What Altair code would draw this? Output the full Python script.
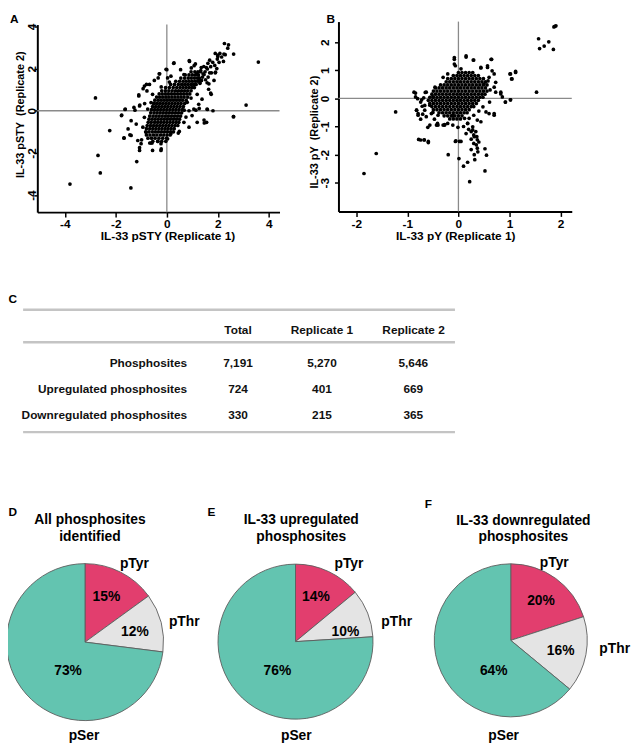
import altair as alt
import pandas as pd

# ---------------- layout (reference pixel coords -> chart coords) ----------------
OFF = 8
W, H = 631, 742
FONT = "Liberation Sans"


def cx(x):
    return x - OFF


def cy(y):
    return y - OFF


# ---------------- data: panel A (pSTY) ----------------
a_outer_pts = [
    (-3.80, -3.48), (-2.80, 0.61), (-2.70, -2.12), (-2.61, -2.95), (-2.24, -0.94), (-1.41, -3.66),
    (-1.18, -2.41), (-1.77, -0.20), (-1.64, 0.06), (-1.68, -1.28), (-1.45, -1.14), (-1.07, -1.75),
    (-1.10, 0.75), (-0.80, 1.25), (-1.06, 0.27), (-1.25, 0.03), (-0.99, -1.38), (-0.67, -1.53),
    (-0.22, -1.81), (0.49, -0.98), (-0.03, 1.97), (0.27, 2.25), (0.88, 2.38), (1.61, 2.25),
    (1.90, 2.72), (2.26, 3.19), (2.39, 2.97), (2.24, 2.69), (2.62, 2.69), (3.59, 2.31), (3.11, 0.27),
    (2.62, -0.28), (1.59, 0.06), (1.46, -0.44), (1.56, -0.55), (1.72, 0.84), (1.91, 1.83),
    (2.08, 2.72), (2.00, 2.64), (-0.30, 1.75), (-0.22, 1.13), (0.10, 1.36), (1.07, 2.14), (1.27, 0.11),
    (1.14, 0.03), (0.68, 0.03), (-0.35, -1.45), (-0.58, -1.53), (-0.87, 0.34), (-0.93, 1.05),
]
a_fringe_pts = [
    (-1.78, -0.23), (-1.63, 0.08), (-1.29, 0.16), (-1.10, 0.70), (-1.07, 0.23), (-1.40, -0.47),
    (-1.20, -0.63), (-1.52, -0.86), (-1.68, -1.30), (-1.40, -1.17), (-1.14, -1.41), (-1.01, -1.56),
    (-1.07, -1.88), (-0.62, -1.53), (-0.56, -1.88), (-0.23, -1.88), (-0.23, -1.56), (0.45, -1.06),
    (0.87, -0.78), (1.19, -0.55), (1.47, -0.58), (1.58, 0.08), (1.06, 0.08), (0.87, 0.00),
    (1.81, 0.00), (2.61, -0.28), (1.74, 0.78), (1.38, 0.55), (1.32, 1.41), (1.42, 1.75), (1.68, 1.80),
    (1.96, 2.00), (1.90, 1.80), (2.00, 2.58), (2.29, 2.66), (2.42, 3.13), (2.22, 2.34), (0.89, 2.34),
    (0.96, 2.03), (1.12, 2.22), (0.28, 2.27), (0.00, 1.95), (-0.28, 1.75), (-0.34, 1.56), (0.03, 1.56),
    (0.16, 1.64), (-0.88, 1.17), (-0.78, 0.94), (-0.68, 1.25), (-0.49, 1.44), (0.54, 1.95), (0.67, 1.72),
    (1.58, 1.33), (1.64, 1.02), (1.19, 0.78), (1.25, 0.31), (0.99, -0.23), (0.67, -0.55), (0.16, -1.09),
    (0.03, -1.33), (-0.81, -1.02), (-0.94, -0.78), (-0.88, -0.31), (-0.75, 0.08), (-0.62, 0.39),
    (-0.56, 0.78), (1.36, 1.44), (1.46, 1.72), (1.59, 1.98), (1.72, 2.09), (1.80, 2.30), (1.98, 2.45),
    (1.33, 1.91), (1.18, 1.75), (1.52, 1.47), (1.85, 1.44), (1.65, 1.28), (1.40, 1.60), (1.50, 1.85),
    (1.62, 1.60), (1.75, 1.80), (1.25, 1.55), (1.55, 2.05), (2.15, 2.55), (1.30, 1.30), (1.68, 2.40),
    (1.88, 2.15), (2.05, 2.30), (1.45, 2.10), (1.35, 2.05), (0.75, -0.30), (0.80, 0.40), (0.95, 0.60),
]
a_core_y = [-1.45, -1.3, -1.15, -1.0, -0.85, -0.7, -0.55, -0.4, -0.25, -0.1, 0.05, 0.2,
            0.35, 0.5, 0.65, 0.8, 0.95, 1.1, 1.25, 1.4, 1.55, 1.7, 1.85]
a_core_x = [
    [-0.55, -0.36, -0.2, -0.04],
    [-0.74, -0.6, -0.46, -0.31, -0.16, -0.01],
    [-0.8, -0.66, -0.52, -0.39, -0.25, -0.12, 0.01, 0.13],
    [-0.83, -0.7, -0.57, -0.45, -0.33, -0.21, -0.09, 0.03, 0.15, 0.26],
    [-0.8, -0.67, -0.55, -0.43, -0.31, -0.19, -0.07, 0.05, 0.17, 0.29],
    [-0.77, -0.64, -0.52, -0.4, -0.28, -0.16, -0.04, 0.08, 0.2, 0.32, 0.43],
    [-0.73, -0.61, -0.48, -0.36, -0.24, -0.12, 0.0, 0.12, 0.24, 0.36, 0.47],
    [-0.7, -0.58, -0.46, -0.34, -0.22, -0.1, 0.02, 0.14, 0.26, 0.38, 0.5],
    [-0.67, -0.54, -0.42, -0.3, -0.18, -0.06, 0.06, 0.18, 0.3, 0.42, 0.54],
    [-0.63, -0.5, -0.38, -0.26, -0.14, -0.02, 0.1, 0.22, 0.34, 0.46, 0.58],
    [-0.6, -0.48, -0.36, -0.24, -0.12, 0.0, 0.12, 0.24, 0.36, 0.48, 0.61],
    [-0.56, -0.44, -0.32, -0.2, -0.08, 0.04, 0.16, 0.28, 0.4, 0.52, 0.65],
    [-0.52, -0.4, -0.28, -0.16, -0.04, 0.08, 0.2, 0.32, 0.44, 0.56, 0.7],
    [-0.47, -0.34, -0.22, -0.1, 0.02, 0.14, 0.26, 0.38, 0.5, 0.62, 0.76],
    [-0.4, -0.28, -0.16, -0.04, 0.08, 0.2, 0.32, 0.44, 0.56, 0.68, 0.82],
    [-0.3, -0.18, -0.06, 0.06, 0.18, 0.3, 0.42, 0.54, 0.66, 0.78, 0.9],
    [-0.2, -0.06, 0.08, 0.21, 0.34, 0.46, 0.58, 0.7, 0.82, 0.95],
    [-0.05, 0.1, 0.25, 0.39, 0.52, 0.64, 0.76, 0.88, 0.99, 1.08],
    [0.15, 0.3, 0.45, 0.58, 0.7, 0.82, 0.94, 1.05, 1.15],
    [0.35, 0.5, 0.64, 0.76, 0.88, 1.0, 1.12, 1.22],
    [0.55, 0.7, 0.84, 0.96, 1.08, 1.19, 1.28],
    [0.72, 0.87, 1.0, 1.12, 1.24],
    [0.95, 1.1, 1.22, 1.32],
]

# ---------------- data: panel B (pY) ----------------
b_outer_pts = [
    (-1.85, -2.67), (-1.61, -1.96), (-1.23, -0.48), (-0.87, 0.22), (-0.84, 0.19), (-0.80, -0.01),
    (-0.65, 0.21), (-0.78, -1.46), (-0.74, -1.48), (-0.67, -1.48), (-0.59, -1.57), (-0.60, -1.03),
    (-0.20, -2.00), (-0.06, -1.53), (0.05, -1.53), (0.01, -2.14), (0.10, -2.41), (0.18, -2.27),
    (0.22, -2.96), (0.25, -1.82), (0.31, -2.00), (0.32, -2.18), (0.35, -1.65), (0.37, -1.77),
    (0.36, -1.36), (0.34, -1.18), (0.28, -1.12), (0.52, -1.79), (0.52, -2.58), (0.55, -2.02),
    (-0.08, 1.45), (-0.08, 1.22), (0.15, 1.51), (0.29, 1.36), (0.44, 1.10), (0.57, 1.16), (0.65, 1.39),
    (0.70, 0.87), (0.70, -0.54), (0.61, -0.13), (0.73, 0.22), (0.83, 0.22), (0.92, -0.13), (1.01, 0.87),
    (1.04, 0.69), (1.12, 0.92), (1.02, -0.05), (1.53, 0.22), (1.57, 2.12), (1.59, 1.77), (1.68, 1.86),
    (1.77, 2.01), (1.86, 1.74), (1.87, 2.54), (1.91, 2.58), (1.89, 2.56),
    (-0.82, -0.42), (-0.79, -0.54), (-0.74, -0.74), (-0.70, -0.56), (-0.66, -0.42), (-0.63, -0.65),
    (-0.53, -0.54), (-0.47, -0.74), (-0.40, -0.95), (-0.27, -0.93), (-0.71, -0.28), (-0.56, -0.24),
    (-0.50, 0.05), (-0.43, -0.95), (-0.30, -0.95), (-0.11, -0.95), (-0.01, -1.03), (0.18, -0.89),
    (0.21, -0.71), (0.44, -0.83), (0.54, -0.48), (-0.11, -0.62), (0.10, -1.00), (0.20, -1.10),
    (0.15, -1.25), (0.30, -1.30), (0.25, -1.45), (0.40, -1.55), (0.30, -1.60), (0.38, -1.90),
]
b_fringe_pts = [
    (-0.08, 1.39), (-0.06, 1.16), (0.15, 1.47), (0.30, 1.36), (0.64, 1.39), (0.57, 1.10), (0.44, 1.08),
    (0.66, 0.98), (1.02, 0.87), (1.12, 0.96), (1.05, 0.69), (0.73, 0.57), (0.70, 0.40), (0.83, 0.16),
    (0.86, 0.05), (0.92, -0.13), (1.02, -0.05), (0.60, -0.54), (0.70, -0.60), (0.37, -0.77),
    (0.28, -1.01), (0.25, -1.18), (0.31, -1.36), (0.37, -1.47), (0.02, -1.53), (-0.05, -1.51),
    (-0.21, -0.89), (-0.27, -0.95), (-0.41, -0.89), (-0.56, -0.95), (-0.67, -1.47), (-0.59, -1.53),
    (-0.82, -0.42), (-0.79, -0.60), (-0.84, 0.05), (-0.63, 0.22), (-0.46, 0.40), (-0.30, 0.75),
    (-0.21, 0.87), (0.50, 0.51), (0.60, 0.75), (0.12, -0.71), (0.18, -0.89), (-0.11, -0.60),
    (-0.40, -0.60), (-0.66, -0.25), (-0.74, -0.13), (-0.68, 0.02), (-0.72, -0.05), (0.62, 0.30),
    (0.58, 0.62), (0.48, -0.30), (0.40, -0.45), (0.30, -0.60), (-0.50, -0.50), (0.05, 1.05),
]
b_core_y = [0.92, 0.81, 0.70, 0.59, 0.48, 0.37, 0.26, 0.15, 0.04, -0.07, -0.18, -0.29,
            -0.40, -0.51, -0.62, -0.73]
b_core_x = [
    [0.0, 0.07, 0.14, 0.21, 0.28],
    [-0.1, -0.03, 0.04, 0.11, 0.18, 0.25, 0.32, 0.39],
    [-0.21, -0.14, -0.07, 0.0, 0.07, 0.14, 0.21, 0.28, 0.35, 0.42, 0.49],
    [-0.24, -0.17, -0.1, -0.03, 0.04, 0.11, 0.18, 0.25, 0.32, 0.39, 0.46, 0.53],
    [-0.35, -0.28, -0.21, -0.14, -0.07, 0.0, 0.07, 0.14, 0.21, 0.28, 0.35, 0.42, 0.49, 0.56],
    [-0.45, -0.38, -0.31, -0.24, -0.17, -0.1, -0.03, 0.04, 0.11, 0.18, 0.25, 0.32, 0.39, 0.46, 0.53],
    [-0.49, -0.42, -0.35, -0.28, -0.21, -0.14, -0.07, 0.0, 0.07, 0.14, 0.21, 0.28, 0.35, 0.42, 0.49, 0.56],
    [-0.52, -0.45, -0.38, -0.31, -0.24, -0.17, -0.1, -0.03, 0.04, 0.11, 0.18, 0.25, 0.32, 0.39, 0.46, 0.52],
    [-0.56, -0.49, -0.42, -0.35, -0.28, -0.21, -0.14, -0.07, 0.0, 0.07, 0.14, 0.21, 0.28, 0.35, 0.42, 0.48],
    [-0.59, -0.52, -0.45, -0.38, -0.31, -0.24, -0.17, -0.1, -0.03, 0.04, 0.11, 0.18, 0.25, 0.32, 0.39],
    [-0.56, -0.49, -0.42, -0.35, -0.28, -0.21, -0.14, -0.07, 0.0, 0.07, 0.14, 0.21, 0.28, 0.35],
    [-0.52, -0.45, -0.38, -0.31, -0.24, -0.17, -0.1, -0.03, 0.04, 0.11, 0.18, 0.25, 0.3],
    [-0.49, -0.42, -0.35, -0.28, -0.21, -0.14, -0.07, 0.0, 0.07, 0.14, 0.21],
    [-0.38, -0.31, -0.24, -0.17, -0.1, -0.03, 0.04, 0.11, 0.17],
    [-0.28, -0.21, -0.14, -0.07, 0.0, 0.07],
    [-0.17, -0.1, -0.03, 0.04],
]

# ---------------- data: table C ----------------
table_rows = ["Phosphosites", "Upregulated phosphosites", "Downregulated phosphosites"]
table_cols = ["Total", "Replicate 1", "Replicate 2"]
total_vals = [7191, 724, 330]
rep1_vals = [5270, 401, 215]
rep2_vals = [5646, 669, 365]

# ---------------- data: pies D/E/F ----------------
sites = ["pTyr", "pThr", "pSer"]
site_colors = ["#E23E6E", "#E4E4E4", "#63C4B0"]
pct_all = [15, 12, 73]
pct_up = [14, 10, 76]
pct_down = [20, 16, 64]


# ---------------- helpers ----------------
def pts_frame(outer, fringe, core_y, core_x):
    xs, ys = [], []
    for p in outer + fringe:
        xs.append(p[0])
        ys.append(p[1])
    for yv, row in zip(core_y, core_x):
        for xv in row:
            xs.append(xv)
            ys.append(yv)
    return pd.DataFrame({"x": xs, "y": ys})


dummy = pd.DataFrame({"k": [0]})


def txt(s, x, y, size=12, align="center", baseline="alphabetic", line_height=None, color="black"):
    props = dict(align=align, baseline=baseline, font=FONT, fontSize=size, fontWeight="bold", color=color)
    if line_height is not None:
        props["lineHeight"] = line_height
    return alt.Chart(dummy).mark_text(**props).encode(
        x=alt.value(cx(x)), y=alt.value(cy(y)), text=alt.value(s)
    )


def hline(x1, x2, y, color="#c4c4c4", width=2.5):
    return alt.Chart(dummy).mark_rule(color=color, strokeWidth=width).encode(
        x=alt.value(cx(x1)), x2=alt.value(cx(x2)), y=alt.value(cy(y))
    )


def mk_axis(orient, offset, values, title, tick_size, label_pad, **kw):
    d = dict(orient=orient, offset=offset, values=values, title=title,
             domainColor="black", domainWidth=2, tickColor="black", tickWidth=1.5, tickSize=tick_size,
             labelPadding=label_pad, labelFont=FONT, labelFontSize=12, labelFontWeight="bold",
             labelColor="black", titleFont=FONT, titleFontSize=12, titleFontWeight="bold",
             titleColor="black", grid=False, labelExpr="'' + datum.value",
             labelOverlap=False, labelFlush=False)
    d.update(kw)
    return alt.Axis(**d)


def scatter_panel(df, xdom, ydom, xrange_, yrange_, xaxis, yaxis):
    xsc = alt.Scale(domain=xdom, range=xrange_, nice=False, zero=False)
    ysc = alt.Scale(domain=ydom, range=yrange_, nice=False, zero=False)
    vrule = alt.Chart(dummy).mark_rule(color="#8a8a8a", strokeWidth=1.3).encode(
        x=alt.XDatum(0, scale=xsc), y=alt.YDatum(ydom[0], scale=ysc), y2=alt.Y2Datum(ydom[1])
    )
    hrule = alt.Chart(dummy).mark_rule(color="#8a8a8a", strokeWidth=1.3).encode(
        y=alt.YDatum(0, scale=ysc), x=alt.XDatum(xdom[0], scale=xsc), x2=alt.X2Datum(xdom[1])
    )
    pts = alt.Chart(df).mark_circle(size=14, color="black", opacity=1).encode(
        x=alt.X("x:Q", scale=xsc, axis=xaxis),
        y=alt.Y("y:Q", scale=ysc, axis=yaxis),
    )
    return alt.layer(vrule, hrule, pts)


def pie(vals, pcx, pcy, r):
    df = pd.DataFrame({"site": sites, "pct": vals, "ord": [0, 1, 2]})
    return alt.Chart(df).mark_arc(radius=r, stroke="#5c5c5c", strokeWidth=0.9).encode(
        theta=alt.Theta("pct:Q", stack=True),
        order=alt.Order("ord:Q"),
        color=alt.Color("site:N", scale=alt.Scale(domain=sites, range=site_colors), legend=None),
        x=alt.value(cx(pcx)),
        y=alt.value(cy(pcy)),
    )


# ---------------- panel A ----------------
a_df = pts_frame(a_outer_pts, a_fringe_pts, a_core_y, a_core_x)
panel_a = scatter_panel(
    a_df, [-5.08, 4.42], [-4.81, 4.09],
    [cx(37.7), cx(283)], [cy(210), cy(20)],
    mk_axis("bottom", cy(210) - H, [-4, -2, 0, 2, 4], "IL-33 pSTY (Replicate 1)", 5, 2,
            titleX=cx(169.5), titleY=28, titleBaseline="alphabetic", titleAlign="center"),
    mk_axis("left", -cx(37.7), [-4, -2, 0, 2, 4], "IL-33 pSTY\u00a0 (Replicate 2)", 3.5, -1.5,
            labelAngle=270, labelAlign="center", labelBaseline="alphabetic",
            titleX=-13.5, titleY=cy(110.8), titleBaseline="alphabetic", titleAlign="center",
            titleAngle=270, titleFontSize=11),
)

# ---------------- panel B ----------------
b_df = pts_frame(b_outer_pts, b_fringe_pts, b_core_y, b_core_x)
panel_b = scatter_panel(
    b_df, [-2.35, 2.22], [-4.02, 2.73],
    [cx(342.7), cx(579)], [cy(209.3), cy(17)],
    mk_axis("bottom", cy(209.3) - H, [-2, -1, 0, 1, 2], "IL-33 pY (Replicate 1)", 5, 2,
            titleX=cx(461), titleY=28.5, titleBaseline="alphabetic", titleAlign="center"),
    mk_axis("left", -cx(342.7), [-3, -2, -1, 0, 1, 2], "IL-33 pY\u00a0 (Replicate 2)", 4, 6,
            labelAngle=270, labelAlign="center", labelBaseline="alphabetic",
            titleX=-21, titleY=cy(128.5), titleBaseline="alphabetic", titleAlign="center",
            titleAngle=270, titleFontSize=11),
)

# ---------------- table C ----------------
tdf = pd.DataFrame({"row": table_rows, "total": total_vals, "rep1": rep1_vals, "rep2": rep2_vals})
row_y = alt.Y("row:N", scale=alt.Scale(type="point", domain=table_rows,
                                       range=[cy(363), cy(416)], padding=0), axis=None)
tstyle = dict(baseline="middle", font=FONT, fontSize=12, fontWeight="bold", color="#111111")
t_label = alt.Chart(tdf).mark_text(align="right", **tstyle).encode(
    x=alt.value(cx(189.5)), y=row_y, text="row:N")
t_total = alt.Chart(tdf).mark_text(align="center", **tstyle).encode(
    x=alt.value(cx(241)), y=row_y, text=alt.Text("total:Q", format=",d"))
t_rep1 = alt.Chart(tdf).mark_text(align="center", **tstyle).encode(
    x=alt.value(cx(326)), y=row_y, text=alt.Text("rep1:Q", format=",d"))
t_rep2 = alt.Chart(tdf).mark_text(align="center", **tstyle).encode(
    x=alt.value(cx(418.5)), y=row_y, text=alt.Text("rep2:Q", format=",d"))
header_x = [241, 326, 418.8]
t_head = [txt(c, hx, 329, size=12, baseline="middle", color="#111111")
          for c, hx in zip(table_cols, header_x)]

# ---------------- pies ----------------
pie_d = pie(pct_all, 86, 645.5, 79.5)
pie_e = pie(pct_up, 299.2, 645, 78.5)
pie_f = pie(pct_down, 517.2, 643.7, 77.5)

pie_texts = [
    # D
    txt(["All phosphosites", "identified"], 91, 526, size=14, line_height=17),
    txt("pTyr", 136, 570, size=14), txt("pThr", 186.5, 629.3, size=14), txt("pSer", 85, 745, size=14),
    txt(f"{pct_all[0]}%", 107.7, 604, size=14), txt(f"{pct_all[1]}%", 136.5, 639.3, size=14),
    txt(f"{pct_all[2]}%", 68.8, 679, size=14),
    # E
    txt(["IL-33 upregulated", "phosphosites"], 305, 526, size=14, line_height=17),
    txt("pTyr", 353.3, 570.7, size=14), txt("pThr", 401.7, 629, size=14), txt("pSer", 300, 745, size=14),
    txt(f"{pct_up[0]}%", 319.8, 604, size=14), txt(f"{pct_up[1]}%", 349.7, 639.3, size=14),
    txt(f"{pct_up[2]}%", 280.8, 679, size=14),
    # F
    txt(["IL-33 downregulated", "phosphosites"], 530, 526.5, size=14, line_height=17),
    txt("pTyr", 561.3, 569.3, size=14), txt("pThr", 622.5, 656.7, size=14), txt("pSer", 510, 745, size=14),
    txt(f"{pct_down[0]}%", 547.8, 608, size=14), txt(f"{pct_down[1]}%", 567.8, 658.3, size=14),
    txt(f"{pct_down[2]}%", 500, 679, size=14),
]

letters = [
    txt("A", 10, 18, size=12, align="left"),
    txt("B", 330.7, 18, size=12, align="left"),
    txt("C", 8.5, 301.7, size=12, align="left"),
    txt("D", 8.5, 517.7, size=12, align="left"),
    txt("E", 210, 517.7, size=12, align="left"),
    txt("F", 430, 509.3, size=12, align="left"),
]

table_lines = [hline(23.3, 460.7, 308.8), hline(23.3, 460.7, 341.8), hline(23.3, 460.7, 432.8)]

layers = [panel_a, panel_b] + table_lines + [t_label, t_total, t_rep1, t_rep2] + t_head + \
         [pie_d, pie_e, pie_f] + pie_texts + letters

chart = alt.layer(*layers).resolve_scale(x="independent", y="independent").properties(
    width=W, height=H, autosize=alt.AutoSizeParams(type="none"), padding=0, background="white"
).configure_view(stroke=None)

chart.save("out.html", embed_options={"renderer": "svg", "actions": False})
